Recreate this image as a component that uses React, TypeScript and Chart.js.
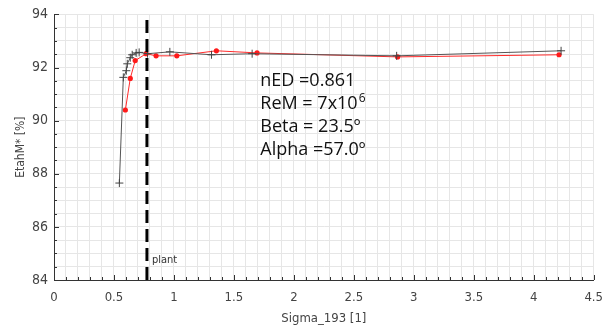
import React, { useEffect, useRef } from 'react';
import { Chart, registerables } from 'chart.js';
Chart.register(...registerables);

// Black series (+ markers)
const blackX = [0.545, 0.578, 0.603, 0.611, 0.636, 0.652, 0.685, 0.71, 0.78, 0.966, 1.313, 1.652, 2.857, 4.228];
const blackY = [87.65, 91.63, 91.88, 92.14, 92.37, 92.48, 92.55, 92.57, 92.52, 92.59, 92.48, 92.52, 92.44, 92.63];
// Red series (dot markers)
const redX = [0.595, 0.636, 0.677, 0.768, 0.851, 1.024, 1.354, 1.693, 2.865, 4.211];
const redY = [90.40, 91.59, 92.26, 92.52, 92.44, 92.44, 92.63, 92.55, 92.40, 92.48];
// Vertical "plant" marker
const plantX = 0.775;
const plantLabel = 'plant';
// Axis ranges / ticks
const xMin = 0, xMax = 4.5, xStep = 0.1, xLabelStep = 0.5;
const yMin = 84, yMax = 94, yStep = 0.5, yLabelStep = 2;
const xTitle = 'Sigma_193 [1]';
const yTitle = 'EtahM* [%]';
// Annotation text block
const noteLines = ['nED =0.861', 'ReM = 7x10', 'Beta = 23.5º', 'Alpha =57.0º'];
const noteSups = ['', '6', '', ''];
const noteAnchor = { x: 1.72, y: 91.48 };

const TICK_FONT = "'DejaVu Sans Condensed', 'Liberation Sans Narrow', sans-serif";

const isMult = (v: number, s: number) => Math.abs(v / s - Math.round(v / s)) < 1e-6;

const overlay = {
  id: 'overlay',
  afterDraw(chart: any) {
    const { ctx, chartArea, scales } = chart;
    const x = scales.x, y = scales.y;
    ctx.save();
    ctx.strokeStyle = '#333';
    ctx.lineWidth = 1;
    x.ticks.forEach((t: any) => {
      const px = Math.round(x.getPixelForValue(t.value)) + 0.5;
      const len = isMult(t.value, xLabelStep) ? 5 : 3;
      ctx.beginPath();
      ctx.moveTo(px, chartArea.bottom);
      ctx.lineTo(px, chartArea.bottom - len);
      ctx.stroke();
    });
    y.ticks.forEach((t: any) => {
      const py = Math.round(y.getPixelForValue(t.value)) + 0.5;
      const len = isMult(t.value, yLabelStep) ? 5 : 3;
      ctx.beginPath();
      ctx.moveTo(chartArea.left, py);
      ctx.lineTo(chartArea.left + len, py);
      ctx.stroke();
    });
    // plant label
    ctx.fillStyle = '#333';
    ctx.font = `11px ${TICK_FONT}`;
    ctx.textBaseline = 'middle';
    ctx.textAlign = 'left';
    ctx.fillText(plantLabel, x.getPixelForValue(plantX) + 5, y.getPixelForValue(84.75));
    // annotation
    const ax = x.getPixelForValue(noteAnchor.x);
    const ay = y.getPixelForValue(noteAnchor.y);
    ctx.fillStyle = '#111';
    noteLines.forEach((line, i) => {
      const ly = ay + i * 23;
      ctx.font = "18px 'Open Sans', sans-serif";
      ctx.fillText(line, ax, ly);
      if (noteSups[i]) {
        const w = ctx.measureText(line).width;
        ctx.font = "12px 'Open Sans', sans-serif";
        ctx.fillText(noteSups[i], ax + w + 1, ly - 6);
      }
    });
    ctx.restore();
  },
};

export default function App() {
  const ref = useRef<HTMLCanvasElement>(null);
  useEffect(() => {
    document.body.style.margin = '0';
    const canvas = ref.current!;
    const chart = new Chart(canvas, {
      type: 'scatter',
      data: {
        datasets: [
          {
            label: 'plant',
            data: [{ x: plantX, y: yMin }, { x: plantX, y: yMax }],
            showLine: true,
            borderColor: '#000',
            borderWidth: 3,
            borderDash: [13, 6],
            pointRadius: 0,
          },
          {
            label: 'black',
            data: blackX.map((v, i) => ({ x: v, y: blackY[i] })),
            showLine: true,
            borderColor: '#555',
            borderWidth: 1,
            pointStyle: 'cross',
            pointRadius: 4,
            pointBorderColor: '#444',
            pointBorderWidth: 1,
          },
          {
            label: 'red',
            data: redX.map((v, i) => ({ x: v, y: redY[i] })),
            showLine: true,
            borderColor: '#ff2a2a',
            borderWidth: 1,
            pointStyle: 'circle',
            pointRadius: 2.6,
            pointBackgroundColor: '#ff1a1a',
            pointBorderColor: '#ff1a1a',
            pointBorderWidth: 0,
          },
        ],
      },
      options: {
        responsive: false,
        animation: false,
        layout: { padding: { left: 0, top: 10, right: 15, bottom: 0 } },
        plugins: { legend: { display: false }, tooltip: { enabled: false } },
        scales: {
          x: {
            type: 'linear',
            min: xMin,
            max: xMax,
            afterFit: (s: any) => { s.height = 46; },
            grid: { color: '#e6e6e6', drawTicks: false },
            border: { color: '#333', width: 1 },
            ticks: {
              stepSize: xStep,
              autoSkip: false,
              maxRotation: 0,
              padding: 10,
              color: '#444',
              font: { family: TICK_FONT, size: 13 },
              callback: (v: any) => (isMult(Number(v), xLabelStep) ? String(Math.round(Number(v) * 10) / 10) : ''),
            },
            title: {
              display: true,
              text: xTitle,
              color: '#444',
              font: { family: TICK_FONT, size: 13 },
              padding: { top: 0, bottom: 0 },
            },
          },
          y: {
            type: 'linear',
            min: yMin,
            max: yMax,
            afterFit: (s: any) => { s.width = 54; },
            grid: { color: '#e6e6e6', drawTicks: false },
            border: { color: '#333', width: 1 },
            ticks: {
              stepSize: yStep,
              autoSkip: false,
              padding: 6,
              color: '#444',
              font: { family: TICK_FONT, size: 14 },
              callback: (v: any) => (isMult(Number(v), yLabelStep) ? String(Math.round(Number(v))) : ''),
            },
            title: {
              display: true,
              text: yTitle,
              color: '#444',
              font: { family: TICK_FONT, size: 12 },
              padding: { top: 14, bottom: 0 },
            },
          },
        },
      },
      plugins: [overlay],
    });
    return () => chart.destroy();
  }, []);
  return (
    <div style={{ width: 613, height: 326 }}>
      <canvas ref={ref} width={613} height={326} />
    </div>
  );
}
